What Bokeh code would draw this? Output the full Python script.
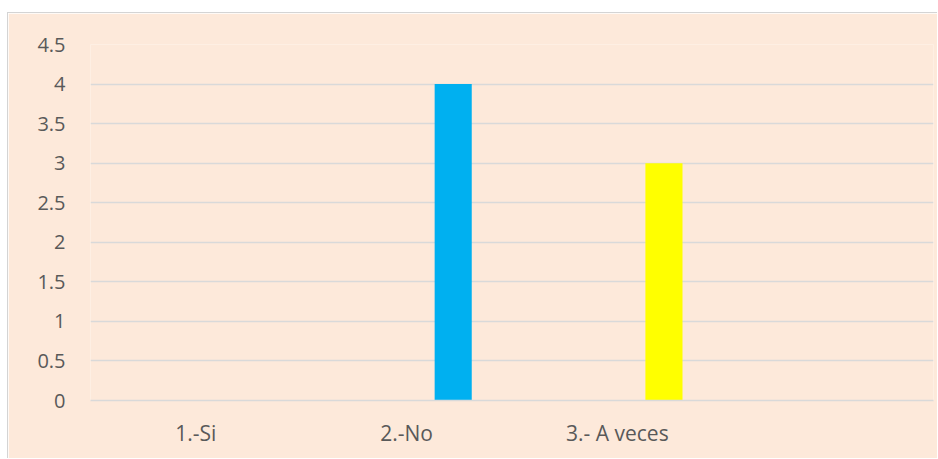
from bokeh.plotting import figure
from bokeh.models import ColumnDataSource, FactorRange, SingleIntervalTicker
from bokeh.transform import dodge
from bokeh.embed import file_html
from bokeh.resources import INLINE

# Survey answers and how many people gave each one
categories = ["1.-Si", "2.-No", "3.- A veces", " "]
answers = ["1.-Si", "2.-No", "3.- A veces"]
counts = [0, 4, 3]
bar_colors = ["#4472C4", "#00B0F0", "#FFFF00"]

bg = "#FDE9DA"
grid = "#D9D9D9"
txt = "#595959"
font = "Open Sans"

p = figure(
    width=930, height=446,
    x_range=FactorRange(*categories, range_padding=0),
    y_range=(0, 4.5),
    output_backend="svg", toolbar_location=None,
    background_fill_color=bg, border_fill_color=bg,
    min_border_left=82, min_border_right=5,
    min_border_top=31, min_border_bottom=59,
    outline_line_color=None,
    margin=(12, 0, 0, 7),
)
p.styles = {"border-left": "1px solid #D4D4D4", "border-top": "1px solid #D4D4D4"}

shown = [(a, c, col) for a, c, col in zip(answers, counts, bar_colors) if c > 0]
src = ColumnDataSource(dict(
    answer=[s[0] for s in shown],
    count=[s[1] for s in shown],
    color=[s[2] for s in shown],
))
p.vbar(x=dodge("answer", 0.221, range=p.x_range), top="count", width=0.176,
       source=src, fill_color="color", line_color=None)

# y axis
p.yaxis.ticker = SingleIntervalTicker(interval=0.5)
p.yaxis.axis_line_color = None
p.yaxis.major_tick_line_color = None
p.yaxis.minor_tick_line_color = None
p.yaxis.major_label_standoff = 19
p.yaxis.major_label_text_font = font
p.yaxis.major_label_text_font_size = "20px"
p.yaxis.major_label_text_color = txt

# x axis
p.xaxis.axis_line_color = grid
p.xaxis.axis_line_width = 1.5
p.xaxis.major_tick_line_color = None
p.xaxis.minor_tick_line_color = None
p.xaxis.major_label_standoff = 12
p.xaxis.major_label_text_font = font
p.xaxis.major_label_text_font_size = "21px"
p.xaxis.major_label_text_color = txt

p.xgrid.grid_line_color = None
p.ygrid.grid_line_color = grid
p.ygrid.grid_line_width = 1.5

open("out.html", "w").write(file_html(p, INLINE))
